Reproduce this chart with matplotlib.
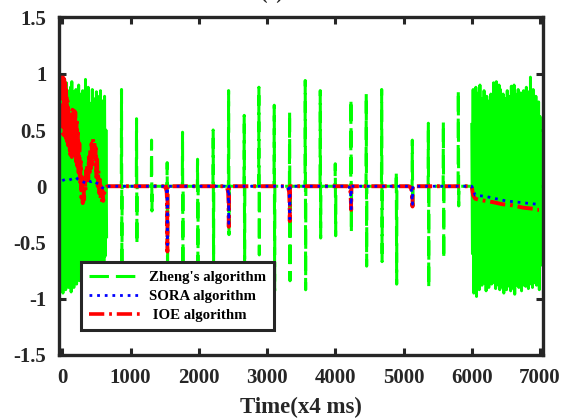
import numpy as np
import matplotlib
matplotlib.use("Agg")
import matplotlib.pyplot as plt
from matplotlib.lines import Line2D

plt.rcParams['font.family'] = ['Liberation Serif', 'DejaVu Serif']
plt.rcParams['font.weight'] = 'bold'
plt.rcParams['lines.scale_dashes'] = False

# ---- Zheng's algorithm: dense start/end segments (upper/lower swing per step) ----
head_x = list(range(0, 641, 20))
head_hi = [0.86, 0.90, 0.78, 0.92, 0.85, 0.80, 0.88, 0.93, 0.84, 0.70, 0.86, 0.76, 0.90,
           0.82, 0.72, 0.85, 0.78, 0.95, 0.80, 0.88, 0.74, 0.70, 0.86, 0.78, 0.68, 0.84,
           0.80, 0.72, 0.85, 0.76, 0.66, 0.80, 0.50]
head_lo = [-0.95, -0.88, -0.92, -0.85, -0.90, -0.82, -0.94, -0.86, -0.90, -0.80, -0.87,
           -0.76, -0.84, -0.79, -0.88, -0.75, -0.82, -0.78, -0.86, -0.72, -0.80, -0.70,
           -0.77, -0.68, -0.74, -0.66, -0.72, -0.63, -0.70, -0.65, -0.72, -0.62, -0.45]

tail_x = list(range(6000, 7001, 20))
tail_hi = [0.55, 0.86, 0.80, 0.88, 0.74, 0.83, 0.90, 0.70, 0.78, 0.85, 0.72, 0.80, 0.68,
           0.76, 0.82, 0.70, 0.92, 0.88, 0.93, 0.80, 0.90, 0.86, 0.75, 0.82, 0.70, 0.78,
           0.85, 0.72, 0.80, 0.89, 0.76, 0.90, 0.82, 0.74, 0.86, 0.78, 0.83, 0.70, 0.85,
           0.80, 0.88, 0.75, 0.84, 0.97, 0.79, 0.86, 0.72, 0.80, 0.68, 0.75, 0.62]
tail_lo = [-0.60, -0.95, -0.90, -0.98, -0.85, -0.92, -0.83, -0.88, -0.80, -0.86, -0.93,
           -0.84, -0.90, -0.82, -0.87, -0.80, -0.86, -0.91, -0.83, -0.88, -0.92, -0.85,
           -0.90, -0.95, -0.87, -0.92, -0.84, -0.89, -0.93, -0.86, -0.91, -0.96, -0.88,
           -0.84, -0.90, -0.86, -0.93, -0.88, -0.82, -0.89, -0.85, -0.91, -0.87, -0.83,
           -0.90, -0.86, -0.80, -0.88, -0.84, -0.92, -0.70]

# isolated bursts between the dense segments: centre, positive peak, negative peak
burst_t = [871, 1091, 1311, 1540, 1765, 1985, 2214, 2440, 2669, 2884, 3109, 3334,
           3563, 3783, 4003, 4233, 4457, 4683, 4897, 5132, 5367, 5587, 5806]
burst_hi = [0.86, 0.60, 0.41, 0.21, 0.48, 0.24, 0.50, 0.85, 0.63, 0.88, 0.72, 0.66,
            0.94, 0.85, 0.20, 0.77, 0.82, 0.86, 0.125, 0.41, 0.56, 0.57, 0.85]
burst_lo = [-0.85, -0.51, -0.22, -0.90, -0.85, -0.80, -0.68, -0.43, -0.75, -0.61,
            -0.93, -0.84, -0.92, -0.46, -0.44, -0.41, -0.71, -0.67, -0.87, -0.21,
            -0.90, -0.64, -0.175]

# ---- SORA and IOE algorithms ----
ioe_head_x = [0, 4, 8, 12, 16, 20, 24, 28, 32, 36, 40, 45, 50, 55, 60, 65, 70, 75, 80,
              85, 90, 95, 100, 105, 110, 115, 120, 130, 140, 150, 160, 170, 180, 190,
              200, 210, 220, 230, 240, 250, 260, 270, 280, 290, 300, 310, 320, 330, 340,
              350, 360, 370, 380, 390, 400, 410, 420, 430, 440, 450, 460, 470, 480, 490,
              500, 510, 520, 530, 540, 550, 560, 570, 580, 590, 600, 610, 620, 640, 660]
ioe_head_y = [0.60, 1.00, 0.50, 0.99, 0.46, 0.97, 0.52, 0.95, 0.45, 0.92, 0.48, 0.90,
              0.44, 0.86, 0.42, 0.80, 0.40, 0.76, 0.45, 0.70, 0.36, 0.66, 0.40, 0.62,
              0.32, 0.58, 0.28, 0.64, 0.26, 0.68, 0.30, 0.70, 0.26, 0.66, 0.22, 0.60,
              0.18, 0.50, 0.12, 0.38, 0.02, 0.22, -0.10, 0.06, -0.15, 0.00, -0.12, 0.08,
              -0.04, 0.14, 0.02, 0.20, 0.06, 0.26, 0.10, 0.32, 0.16, 0.38, 0.20, 0.42,
              0.26, 0.40, 0.18, 0.34, 0.08, 0.24, 0.00, 0.14, -0.06, 0.06, -0.11, 0.00,
              -0.14, -0.04, -0.13, -0.08, -0.04, -0.01, 0.00]
sora_head_x = [0, 40, 80, 120, 160, 200, 230, 260, 300, 340, 380, 420, 460, 500, 540,
               580, 610, 640, 660]
sora_head_y = [0.05, 0.06, 0.05, 0.06, 0.07, 0.08, 0.06, 0.05, 0.04, 0.03, 0.05, 0.04,
               0.05, 0.03, 0.02, -0.01, -0.02, 0.00, 0.00]

dip_t = [1540, 2440, 3334, 4233, 5132]
ioe_dip = [-0.58, -0.36, -0.31, -0.21, -0.18]
sora_dip = [-0.52, -0.33, -0.29, -0.20, -0.16]

ioe_tail_x = [6000, 6020, 6050, 6100, 6200, 6300, 6450, 6600, 6750, 6900, 6960, 6985]
ioe_tail_y = [0.00, -0.08, -0.11, -0.12, -0.13, -0.14, -0.16, -0.17, -0.19, -0.20, -0.21, -0.21]
sora_tail_x = [6000, 6020, 6050, 6200, 6350, 6500, 6650, 6800, 6960, 6985]
sora_tail_y = [0.00, -0.03, -0.08, -0.09, -0.11, -0.13, -0.14, -0.15, -0.16, -0.17]


def swing(xs_in, hi, lo):
    xs, ys = [], []
    for x, h, l in zip(xs_in, hi, lo):
        xs += [x, x + 10]
        ys += [h, l]
    return xs, ys


def bursts():
    xs, ys = [660], [0]
    for t, hi, lo in zip(burst_t, burst_hi, burst_lo):
        xs += [t - 6, t - 3, t + 3, t + 6]
        ys += [0, hi, lo, 0]
    xs.append(6000)
    ys.append(0)
    return xs, ys


def track_series(hx, hy, dips, tx, ty):
    xs, ys = list(hx), list(hy)
    for t, d in zip(dip_t, dips):
        xs += [t - 60, t - 25, t - 10, t - 3, t, t + 3, t + 20]
        ys += [0, -0.01, -0.05, -0.15, d, 0, 0]
    xs += tx
    ys += ty
    return xs, ys


fig = plt.figure(figsize=(5.64, 4.19), dpi=100)
ax = fig.add_axes([59 / 564, 64 / 419, 484 / 564, 337.5 / 419])

green = '#00ff00'
hx, hy = swing(head_x, head_hi, head_lo)
tx, ty = swing(tail_x, tail_hi, tail_lo)
bx, by = bursts()
ax.plot(hx, hy, color=green, lw=2.1)
ax.plot(tx, ty, color=green, lw=2.1)
ax.plot(bx, by, color=green, lw=2.2, dashes=(14, 5))

ix, iy = track_series(ioe_head_x, ioe_head_y, ioe_dip, ioe_tail_x, ioe_tail_y)
sx, sy = track_series(sora_head_x, sora_head_y, sora_dip, sora_tail_x, sora_tail_y)
ax.plot(ix, iy, color='#ff0000', lw=2.8, dashes=(11, 3.5, 2, 3.5))
ax.plot(sx, sy, color='#0000ff', lw=2.0, dashes=(2, 3.5))

ax.set_xlim(-48, 7044)
ax.set_ylim(-1.5, 1.5)
ax.set_xticks(range(0, 7001, 1000))
ax.set_yticks([-1.5, -1, -0.5, 0, 0.5, 1, 1.5])
ax.set_yticklabels(['-1.5', '-1', '-0.5', '0', '0.5', '1', '1.5'])
ax.tick_params(direction='in', length=5, width=2.2, top=True, right=True,
               labelsize=15, colors='#262626', pad=9)
for sp in ax.spines.values():
    sp.set_linewidth(2.4)
    sp.set_color('#262626')
ax.set_xlabel('Time(x4 ms)', fontsize=16.5, fontweight='bold', color='#262626', labelpad=7)

handles = [Line2D([], [], color=green, lw=2.2, dashes=(14, 5)),
           Line2D([], [], color='#0000ff', lw=2.0, dashes=(2, 3.5)),
           Line2D([], [], color='#ff0000', lw=2.6, dashes=(11, 3.5, 2, 3.5))]
labels = ["Zheng's algorithm", "SORA algorithm", " IOE algorithm"]
leg = ax.legend(handles, labels, loc='lower left', bbox_to_anchor=(0.03, 0.052),
                fontsize=10.7, handlelength=3.4, handletextpad=0.6, borderpad=0.55,
                labelspacing=0.38, fancybox=False, framealpha=1, edgecolor='#262626')
leg.get_frame().set_linewidth(2.2)
for t in leg.get_texts():
    t.set_fontweight('bold')

fig.text(272 / 564, 1 + 1 / 419, '(a)', fontsize=14, fontweight='bold',
         ha='center', va='baseline', color='#262626')

fig.savefig('out.png', dpi=100)
